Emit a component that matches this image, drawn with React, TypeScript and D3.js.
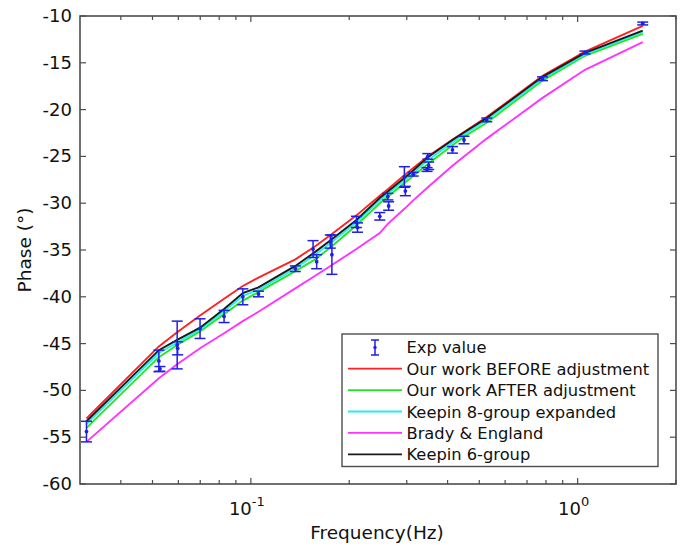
import React from "react";
import * as d3 from "d3";

// model curves sampled at the measured frequencies (Hz)
const freqs = [0.0314, 0.0523, 0.0595, 0.0699, 0.0828, 0.0945, 0.1055, 0.1368, 0.1574, 0.177, 0.2104, 0.248, 0.2625, 0.295, 0.314, 0.348, 0.414, 0.449, 0.527, 0.781, 1.053, 1.582];
const beforeAdj = [-53.0, -45.3, -43.8, -42.0, -40.2, -38.85, -37.95, -36.0, -34.6, -33.3, -31.3, -29.2, -28.5, -27.0, -26.25, -25.0, -23.2, -22.4, -20.8, -16.4, -13.8, -11.05];
const afterAdj = [-54.0, -46.45, -45.15, -43.7, -41.85, -40.4, -39.5, -37.25, -36.0, -34.6, -32.35, -30.0, -29.3, -27.85, -27.1, -25.8, -23.8, -22.9, -21.4, -16.9, -14.25, -11.9];
const keepin8 = [-53.6, -46.0, -44.9, -43.5, -41.55, -39.9, -39.25, -36.95, -35.5, -34.15, -32.05, -29.7, -29.0, -27.55, -26.8, -25.4, -23.5, -22.65, -21.1, -16.7, -14.1, -11.7];
const brady = [-55.5, -48.7, -47.2, -45.5, -43.9, -42.6, -41.6, -39.1, -37.75, -36.6, -34.9, -33.2, -32.2, -30.6, -29.7, -28.3, -26.0, -25.0, -23.1, -18.75, -15.75, -12.8];
const keepin6 = [-53.3, -45.7, -44.6, -43.3, -41.3, -39.6, -39.0, -36.7, -35.2, -33.85, -31.8, -29.45, -28.75, -27.3, -26.5, -25.1, -23.25, -22.45, -20.9, -16.5, -13.95, -11.57];

// experimental points
const expFreq = [0.0314, 0.0523, 0.0527, 0.0595, 0.0597, 0.0699, 0.0828, 0.0945, 0.1055, 0.1368, 0.155, 0.159, 0.175, 0.177, 0.2104, 0.212, 0.248, 0.2625, 0.264, 0.295, 0.297, 0.314, 0.346, 0.348, 0.35, 0.414, 0.449, 0.527, 0.781, 1.053, 1.582];
const expPhase = [-54.4, -46.85, -47.7, -45.15, -45.5, -43.4, -42.1, -40.0, -39.7, -37.0, -34.9, -36.25, -34.1, -35.5, -32.0, -32.6, -31.4, -29.3, -30.3, -27.2, -28.7, -26.9, -26.4, -25.0, -26.0, -24.3, -23.25, -21.1, -16.7, -13.9, -10.8];
const expErr = [1.1, 1.15, 0.25, 2.55, 0.7, 1.05, 0.65, 0.85, 0.3, 0.3, 0.9, 0.75, 0.7, 2.1, 0.6, 0.5, 0.4, 0.35, 0.45, 1.1, 0.5, 0.2, 0.2, 0.3, 0.4, 0.35, 0.4, 0.2, 0.2, 0.15, 0.15];

const yTicks = [-10, -15, -20, -25, -30, -35, -40, -45, -50, -55, -60];
const xMajor = [0.1, 1];
const xMinor = [0.04, 0.05, 0.06, 0.07, 0.08, 0.09, 0.2, 0.3, 0.4, 0.5, 0.6, 0.7, 0.8, 0.9, 2];

const series = [
  { name: "Our work BEFORE adjustment", values: beforeAdj, color: "#ff2020" },
  { name: "Our work AFTER adjustment", values: afterAdj, color: "#22e622" },
  { name: "Keepin 8-group expanded", values: keepin8, color: "#22f0f0" },
  { name: "Brady & England", values: brady, color: "#ff33ff" },
  { name: "Keepin 6-group", values: keepin6, color: "#1a1a1a" },
];

const W = 684;
const H = 547;
const m = { left: 80, top: 16, right: 676, bottom: 484 };
const font = "'DejaVu Sans', sans-serif";
const frame = "#4d4d4d";
const blue = "#1f1fe6";

export default function App() {
  const x = d3.scaleLog().domain([0.03, 2]).range([m.left, m.right]);
  const y = d3.scaleLinear().domain([-60, -10]).range([m.bottom, m.top]);
  const line = d3
    .line<number>()
    .x((_, i) => x(freqs[i]))
    .y((d) => y(d));

  const legX = 342;
  const legY = 334;
  const rowH = 21.4;
  const capW = 5.5;

  return (
    <svg
      width={W}
      height={H}
      style={{ position: "absolute", left: 0, top: 0, background: "#fff" }}
      fontFamily={font}
    >
      {/* curves */}
      {series.map((s) => (
        <path key={s.name} d={line(s.values) || ""} fill="none" stroke={s.color} strokeWidth={1.9} />
      ))}

      {/* error bars */}
      {expFreq.map((f, i) => {
        const cx = x(f);
        const y1 = y(expPhase[i] + expErr[i]);
        const y2 = y(expPhase[i] - expErr[i]);
        return (
          <g key={i} stroke={blue} strokeWidth={1.5}>
            <line x1={cx} x2={cx} y1={y1} y2={y2} />
            <line x1={cx - capW} x2={cx + capW} y1={y1} y2={y1} />
            <line x1={cx - capW} x2={cx + capW} y1={y2} y2={y2} />
            <circle cx={cx} cy={y(expPhase[i])} r={1.9} fill={blue} stroke="none" />
          </g>
        );
      })}

      {/* axes box and ticks */}
      <rect x={m.left} y={m.top} width={m.right - m.left} height={m.bottom - m.top} fill="none" stroke={frame} strokeWidth={1.6} />
      {yTicks.map((t) => (
        <g key={t} stroke={frame} strokeWidth={1.2}>
          <line x1={m.left} x2={m.left + 6} y1={y(t)} y2={y(t)} />
          <line x1={m.right} x2={m.right - 6} y1={y(t)} y2={y(t)} />
        </g>
      ))}
      {xMajor.concat(xMinor).map((t) => {
        const len = xMajor.includes(t) ? 6 : 4;
        return (
          <g key={t} stroke={frame} strokeWidth={1.2}>
            <line x1={x(t)} x2={x(t)} y1={m.bottom} y2={m.bottom - len} />
            <line x1={x(t)} x2={x(t)} y1={m.top} y2={m.top + len} />
          </g>
        );
      })}
      {yTicks.map((t) => (
        <text key={t} x={m.left - 8} y={y(t) + 6} textAnchor="end" fontSize={18} fill="#111">
          {t}
        </text>
      ))}
      {xMajor.map((t) => (
        <text key={t} x={x(t) - 4} y={515} textAnchor="middle" fontSize={18} fill="#111">
          10
          <tspan dy={-9} fontSize={13}>
            {Math.round(Math.log10(t))}
          </tspan>
        </text>
      ))}
      <text x={377} y={539} textAnchor="middle" fontSize={18.5} fill="#111">
        Frequency(Hz)
      </text>
      <text
        transform={`translate(31, ${(m.top + m.bottom) / 2}) rotate(-90)`}
        textAnchor="middle"
        fontSize={18.5}
        fill="#111"
      >
        Phase (°)
      </text>

      {/* legend */}
      <rect x={legX} y={legY} width={316} height={132.5} fill="#fff" stroke={frame} strokeWidth={1.4} />
      <g stroke={blue} strokeWidth={1.5}>
        <line x1={375} x2={375} y1={legY + 6} y2={legY + 21} />
        <line x1={371} x2={379} y1={legY + 6} y2={legY + 6} />
        <line x1={371} x2={379} y1={legY + 21} y2={legY + 21} />
        <circle cx={375} cy={legY + 13.5} r={1.7} fill={blue} stroke="none" />
      </g>
      <text x={406.5} y={legY + 13.3 + 6} fontSize={16.3} fill="#111">
        Exp value
      </text>
      {series.map((s, i) => {
        const cy = legY + 13.3 + rowH * (i + 1);
        return (
          <g key={s.name}>
            <line x1={348} x2={402} y1={cy} y2={cy} stroke={s.color} strokeWidth={1.8} />
            <text x={406.5} y={cy + 6} fontSize={16.3} fill="#111">
              {s.name}
            </text>
          </g>
        );
      })}
    </svg>
  );
}
